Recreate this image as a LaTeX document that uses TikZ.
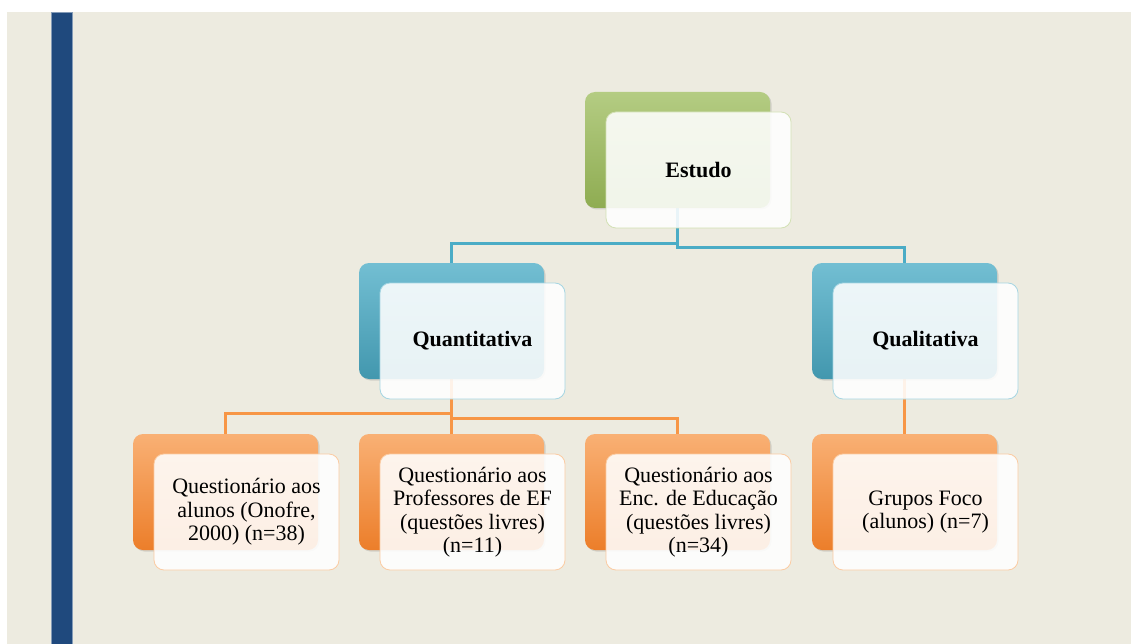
\documentclass[tikz,border=0pt]{standalone}
\usepackage{fontspec}
\setmainfont{Liberation Serif}
\usetikzlibrary{shadows}

\definecolor{paper}{RGB}{237,235,224}
\definecolor{barblue}{RGB}{31,73,125}
\definecolor{leaf}{RGB}{155,187,89}
\definecolor{sky}{RGB}{75,172,198}
\definecolor{tang}{RGB}{247,150,70}

\pgfdeclarelayer{page}
\pgfdeclarelayer{links}
\pgfsetlayers{page,links,main}

\begin{document}
\begin{tikzpicture}[x=1pt,y=-1pt]
\tikzstyle{every node}=[font=\fontsize{22}{23.5}\selectfont]
\tikzstyle{backbox}=[rounded corners=10pt,minimum width=185pt,minimum height=116pt,inner sep=0pt,drop shadow={opacity=0.25,shadow xshift=1.5pt,shadow yshift=-1.5pt}]
\tikzstyle{frontbox}=[rounded corners=10pt,minimum width=185pt,minimum height=116pt,inner sep=0pt,fill=white,fill opacity=0.88,text opacity=1,line width=0.8pt,align=center]
\tikzstyle{greenbox}=[backbox,top color=leaf!75!white,bottom color=leaf!92!black]
\tikzstyle{bluebox}=[backbox,top color=sky!78!white,bottom color=sky!88!black]
\tikzstyle{orangebox}=[backbox,top color=tang!75!white,bottom color={rgb,255:red,236;green,126;blue,42}]
\tikzstyle{bluelink}=[draw=sky,line width=3pt]
\tikzstyle{orangelink}=[draw=tang,line width=3pt]

% page and side bar
\useasboundingbox (0,0) rectangle (1131,644);
\begin{pgfonlayer}{page}
\fill[white] (0,0) rectangle (1131,644);
\fill[paper] (7,12) rectangle (1131,644);
\draw[fill=barblue,draw=barblue!55!white,line width=0.8pt] (51.5,12) rectangle (72.5,644);
\end{pgfonlayer}

% back boxes
\node[greenbox] (estudoB) at (677.5,150) {};
\node[bluebox] (quantB) at (451.5,321) {};
\node[bluebox] (qualB) at (904.5,321) {};
\node[orangebox] (q1B) at (225.5,492) {};
\node[orangebox] (q2B) at (451.5,492) {};
\node[orangebox] (q3B) at (677.5,492) {};
\node[orangebox] (grupB) at (904.5,492) {};

% front boxes
\node[frontbox,draw=leaf!45!white] (estudo) at (698.5,170) {\textbf{Estudo}};
\node[frontbox,draw=sky!50!white] (quant) at (472.5,341) {\textbf{Quantitativa}};
\node[frontbox,draw=sky!50!white] (qual) at (925.5,341) {\textbf{Qualitativa}};
\node[frontbox,draw=tang!50!white] (q1) at (246.5,512) {Questionário aos\\alunos (Onofre,\\2000) (n=38)};
\node[frontbox,draw=tang!50!white] (q2) at (472.5,512) {Questionário aos\\Professores de EF\\(questões livres)\\(n=11)};
\node[frontbox,draw=tang!50!white] (q3) at (698.5,512) {Questionário aos\\Enc. de Educação\\(questões livres)\\(n=34)};
\node[frontbox,draw=tang!50!white] (grup) at (925.5,512) {Grupos Foco\\(alunos) (n=7)};

\begin{pgfonlayer}{links}
\path[bluelink] (estudoB.south) -- ++(0,35) -| (quantB.north);
\path[bluelink] (estudoB.south) -- ++(0,39) -| (qualB.north);
\path[orangelink] (quantB.south) -- ++(0,34) -| (q1B.north);
\path[orangelink] (quantB.south) -- (q2B.north);
\path[orangelink] (quantB.south) -- ++(0,39) -| (q3B.north);
\path[orangelink,line width=2.2pt] (qualB.south) -- (grupB.north);
\end{pgfonlayer}

\end{tikzpicture}
\end{document}
